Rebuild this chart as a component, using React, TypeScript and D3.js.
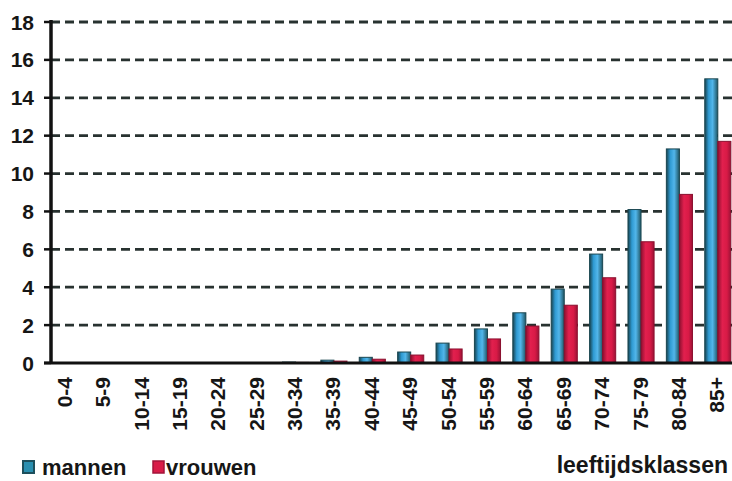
import React from "react";
import * as d3 from "d3";

const categories = ["0-4","5-9","10-14","15-19","20-24","25-29","30-34","35-39","40-44","45-49","50-54","55-59","60-64","65-69","70-74","75-79","80-84","85+"];
const mannen = [0, 0, 0, 0, 0, 0.01, 0.05, 0.15, 0.3, 0.58, 1.05, 1.8, 2.65, 3.9, 5.75, 8.1, 11.3, 15.0];
const vrouwen = [0, 0, 0, 0, 0, 0.01, 0.03, 0.1, 0.2, 0.42, 0.74, 1.27, 1.95, 3.05, 4.5, 6.4, 8.9, 11.7];
const yTicks = [0, 2, 4, 6, 8, 10, 12, 14, 16, 18];
const seriesNames = ["mannen", "vrouwen"];
const xTitle = "leeftijdsklassen";

const W = 732, H = 481;
const FONT = "'Liberation Sans', Arial, Helvetica, sans-serif";

export default function App() {
  const x = d3.scaleBand<string>().domain(categories).range([46, 737]).paddingInner(0.32).paddingOuter(0.16);
  const xs = d3.scaleBand<string>().domain(seriesNames).range([0, x.bandwidth()]);
  const y = d3.scaleLinear().domain([0, 18]).range([363, 22]);
  const axisX = 51;
  const series = [mannen, vrouwen];
  return (
    <svg width={W} height={H} style={{ position: "absolute", left: 0, top: 0, background: "#fff" }}>
      <defs>
        <linearGradient id="gBlue" x1="0" x2="1" y1="0" y2="0">
          <stop offset="0" stopColor="#17434f" />
          <stop offset="0.3" stopColor="#2f9ad2" />
          <stop offset="0.6" stopColor="#52b6ea" />
          <stop offset="1" stopColor="#1f5563" />
        </linearGradient>
        <linearGradient id="gRed" x1="0" x2="1" y1="0" y2="0">
          <stop offset="0" stopColor="#8e1030" />
          <stop offset="0.35" stopColor="#e2204e" />
          <stop offset="0.7" stopColor="#d81a46" />
          <stop offset="1" stopColor="#9c1236" />
        </linearGradient>
      </defs>
      {yTicks.filter(t => t > 0).map(t => (
        <line key={"g" + t} x1={axisX} x2={W} y1={y(t)} y2={y(t)} stroke="#283230" strokeWidth={2.8} strokeDasharray="9 5" />
      ))}
      {categories.map((c, i) => (
        <g key={c}>
          {series.map((s, j) => {
            const v = s[i];
            const h = y(0) - y(v);
            return (
              <rect key={j} x={(x(c) as number) + (xs(seriesNames[j]) as number)} y={y(v)} width={xs.bandwidth()} height={Math.max(0, h)}
                fill={j === 0 ? "url(#gBlue)" : "url(#gRed)"} stroke={j === 0 ? "#1a4650" : "#8a0f2e"} strokeWidth={1} />
            );
          })}
        </g>
      ))}
      <line x1={axisX} x2={axisX} y1={20} y2={364} stroke="#111" strokeWidth={3.5} />
      <line x1={44} x2={W} y1={y(0)} y2={y(0)} stroke="#111" strokeWidth={3} />
      {yTicks.map(t => (
        <g key={"t" + t}>
          <line x1={44} x2={axisX} y1={y(t)} y2={y(t)} stroke="#111" strokeWidth={2.5} />
          <text x={34} y={y(t)} dy="0.36em" textAnchor="end" fontFamily={FONT} fontWeight="bold" fontSize={21} fill="#161616">{t}</text>
        </g>
      ))}
      {categories.map(c => {
        const cx = (x(c) as number) + x.bandwidth() / 2 - 1;
        return (
          <text key={"l" + c} transform={`translate(${cx},377) rotate(-90)`} dy="0.36em" textAnchor="end" fontFamily={FONT} fontWeight="bold" fontSize={21} fill="#161616">{c}</text>
        );
      })}
      <rect x={23} y={461} width={11} height={12} fill="#2a8fb0" stroke="#1d4f5c" strokeWidth={2} />
      <text x={42} y={475} fontFamily={FONT} fontWeight="bold" fontSize={22} fill="#161616">{seriesNames[0]}</text>
      <rect x={153} y={461} width={11} height={12} fill="#d81c48" stroke="#a3143a" strokeWidth={1.5} />
      <text x={166} y={475} fontFamily={FONT} fontWeight="bold" fontSize={22} fill="#161616">{seriesNames[1]}</text>
      <text x={728} y={473} textAnchor="end" fontFamily={FONT} fontWeight="bold" fontSize={23} fill="#161616">{xTitle}</text>
    </svg>
  );
}
